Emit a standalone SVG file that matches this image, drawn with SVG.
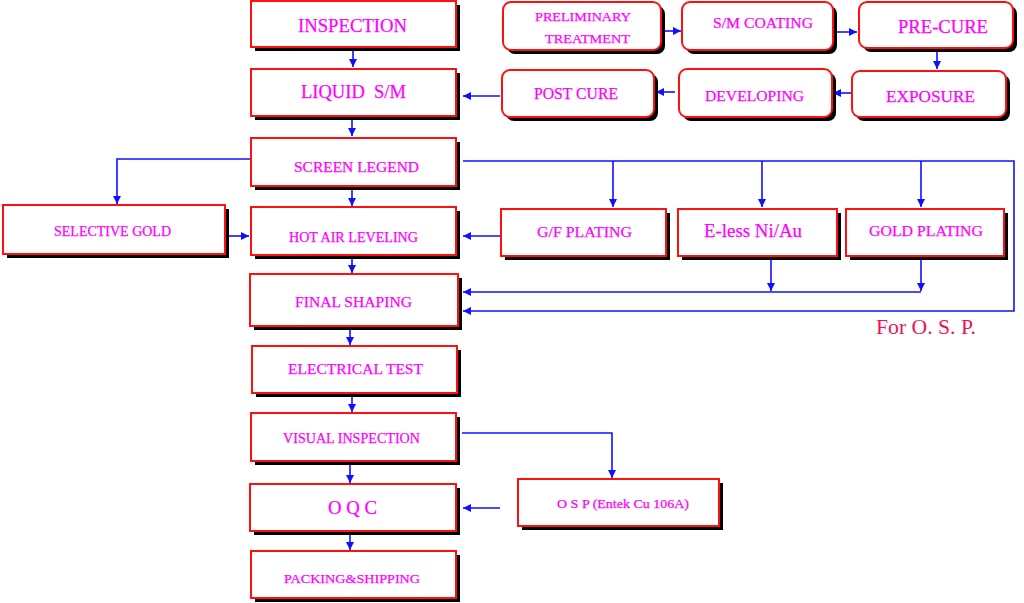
<svg xmlns="http://www.w3.org/2000/svg" width="1024" height="603" viewBox="0 0 1024 603">
<style>
.box{fill:#fff;stroke:#ff1010;stroke-width:2}
.sh{fill:#000}
.t{font-family:"Liberation Serif","Times New Roman",serif;fill:#ff00ff;stroke:#ff00ff;stroke-width:0.25;text-anchor:middle}
.c{fill:none;stroke:#1010ff;stroke-width:1.6}
.osp{font-family:"Liberation Serif","Times New Roman",serif;fill:#f0105a;font-size:20.5px}
</style>
<defs>
<marker id="ah" markerUnits="userSpaceOnUse" markerWidth="10" markerHeight="8" refX="8" refY="4" orient="auto">
<path d="M0,0 L8,4 L0,8 Z" fill="#1010ff"/>
</marker>
</defs>
<rect width="1024" height="603" fill="#fff"/>

<g id="connectors">
<path class="c" d="M353,48 V67" marker-end="url(#ah)"/>
<path class="c" d="M352,117 V136" marker-end="url(#ah)"/>
<path class="c" d="M352,187 V206" marker-end="url(#ah)"/>
<path class="c" d="M352,256 V273" marker-end="url(#ah)"/>
<path class="c" d="M350,327 V345" marker-end="url(#ah)"/>
<path class="c" d="M352,394 V412" marker-end="url(#ah)"/>
<path class="c" d="M350,462 V483" marker-end="url(#ah)"/>
<path class="c" d="M350,533 V550" marker-end="url(#ah)"/>
<path class="c" d="M462,433 H612 V478" marker-end="url(#ah)"/>
<path class="c" d="M500,508 H463" marker-end="url(#ah)"/>
<path class="c" d="M251,159 H117 V204" marker-end="url(#ah)"/>
<path class="c" d="M228,236 H249" marker-end="url(#ah)"/>
<path class="c" d="M463,161 H1014 V311 H463" marker-end="url(#ah)"/>
<path class="c" d="M613,161 V207" marker-end="url(#ah)"/>
<path class="c" d="M762,161 V207" marker-end="url(#ah)"/>
<path class="c" d="M921,161 V207" marker-end="url(#ah)"/>
<path class="c" d="M501,236 H463" marker-end="url(#ah)"/>
<path class="c" d="M921,292 H463" marker-end="url(#ah)"/>
<path class="c" d="M771,258 V291" marker-end="url(#ah)"/>
<path class="c" d="M921,258 V291" marker-end="url(#ah)"/>
<path class="c" d="M661,31 H681" marker-end="url(#ah)"/>
<path class="c" d="M835,32 H857" marker-end="url(#ah)"/>
<path class="c" d="M937,50 V69" marker-end="url(#ah)"/>
<path class="c" d="M852,93 H833" marker-end="url(#ah)"/>
<path class="c" d="M675,92 H656" marker-end="url(#ah)"/>
<path class="c" d="M500,96 H463" marker-end="url(#ah)"/>
</g>

<g id="inspection"><rect class="sh" x="255" y="5" width="205" height="46"/><rect class="box" x="251" y="1" width="205" height="46"/><text class="t" x="352.5" y="32" font-size="18.5" textLength="109" lengthAdjust="spacingAndGlyphs">INSPECTION</text></g>
<g id="liquid-sm"><rect class="sh" x="255" y="73" width="205" height="47"/><rect class="box" x="251" y="69" width="205" height="47"/><text class="t" x="353.5" y="98" font-size="18.5" textLength="105" lengthAdjust="spacingAndGlyphs" xml:space="preserve">LIQUID  S/M</text></g>
<g id="screen-legend"><rect class="sh" x="255" y="142" width="205" height="48"/><rect class="box" x="251" y="138" width="205" height="48"/><text class="t" x="356.5" y="172" font-size="15.5" textLength="125" lengthAdjust="spacingAndGlyphs">SCREEN LEGEND</text></g>
<g id="hot-air-leveling"><rect class="sh" x="255" y="211" width="205" height="48"/><rect class="box" x="251" y="207" width="205" height="48"/><text class="t" x="353.5" y="242" font-size="14.5" textLength="129" lengthAdjust="spacingAndGlyphs">HOT AIR LEVELING</text></g>
<g id="final-shaping"><rect class="sh" x="254" y="278" width="208" height="52"/><rect class="box" x="250" y="274" width="208" height="52"/><text class="t" x="353.5" y="307" font-size="15.5" textLength="117" lengthAdjust="spacingAndGlyphs">FINAL SHAPING</text></g>
<g id="selective-gold"><rect class="sh" x="7" y="209" width="222" height="49"/><rect class="box" x="3" y="205" width="222" height="49"/><text class="t" x="112.5" y="236" font-size="14.5" textLength="117" lengthAdjust="spacingAndGlyphs">SELECTIVE GOLD</text></g>
<g id="electrical-test"><rect class="sh" x="256" y="350" width="205" height="47"/><rect class="box" x="252" y="346" width="205" height="47"/><text class="t" x="355.5" y="374" font-size="15.5" textLength="135" lengthAdjust="spacingAndGlyphs">ELECTRICAL TEST</text></g>
<g id="visual-inspection"><rect class="sh" x="255" y="417" width="205" height="48"/><rect class="box" x="251" y="413" width="205" height="48"/><text class="t" x="351.5" y="443" font-size="14" textLength="137" lengthAdjust="spacingAndGlyphs">VISUAL INSPECTION</text></g>
<g id="oqc"><rect class="sh" x="254" y="488" width="206" height="47"/><rect class="box" x="250" y="484" width="206" height="47"/><text class="t" x="352.5" y="514" font-size="19" textLength="49" lengthAdjust="spacingAndGlyphs" xml:space="preserve">O Q C</text></g>
<g id="packing-shipping"><rect class="sh" x="255" y="555" width="205" height="47"/><rect class="box" x="251" y="551" width="205" height="47"/><text class="t" x="352" y="583" font-size="13.5" textLength="136" lengthAdjust="spacingAndGlyphs">PACKING&amp;SHIPPING</text></g>
<g id="osp"><rect class="sh" x="522" y="483" width="201" height="47"/><rect class="box" x="518" y="479" width="201" height="47"/><text class="t" x="623" y="508" font-size="13.5" textLength="132" lengthAdjust="spacingAndGlyphs">O S P (Entek Cu 106A)</text></g>

<g id="gf-plating"><rect class="sh" x="505" y="213" width="165" height="47"/><rect class="box" x="501" y="209" width="165" height="47"/><text class="t" x="584.5" y="237" font-size="15.6" textLength="95" lengthAdjust="spacingAndGlyphs">G/F PLATING</text></g>
<g id="eless-niau"><rect class="sh" x="682" y="213" width="159" height="47"/><rect class="box" x="678" y="209" width="159" height="47"/><text class="t" x="753" y="237" font-size="18.9" textLength="98" lengthAdjust="spacingAndGlyphs">E-less Ni/Au</text></g>
<g id="gold-plating"><rect class="sh" x="850" y="213" width="158" height="47"/><rect class="box" x="846" y="209" width="158" height="47"/><text class="t" x="926" y="236" font-size="15.6" textLength="114" lengthAdjust="spacingAndGlyphs">GOLD PLATING</text></g>

<g id="preliminary-treatment"><rect class="sh" x="507" y="6" width="158" height="48" rx="8"/><rect class="box" x="503" y="2" width="158" height="48" rx="8"/><text class="t" x="583" y="21" font-size="13.5" textLength="96" lengthAdjust="spacingAndGlyphs">PRELIMINARY</text><text class="t" x="587.5" y="43" font-size="13.5" textLength="85" lengthAdjust="spacingAndGlyphs">TREATMENT</text></g>
<g id="sm-coating"><rect class="sh" x="686" y="6" width="151" height="48" rx="8"/><rect class="box" x="682" y="2" width="151" height="48" rx="8"/><text class="t" x="763" y="28" font-size="15.5" textLength="100" lengthAdjust="spacingAndGlyphs">S/M COATING</text></g>
<g id="pre-cure"><rect class="sh" x="863" y="6" width="154" height="46" rx="8"/><rect class="box" x="859" y="2" width="154" height="46" rx="8"/><text class="t" x="943" y="33" font-size="18.6" textLength="90" lengthAdjust="spacingAndGlyphs">PRE-CURE</text></g>
<g id="post-cure"><rect class="sh" x="506" y="74" width="152" height="47" rx="8"/><rect class="box" x="502" y="70" width="152" height="47" rx="8"/><text class="t" x="576" y="99" font-size="15.7" textLength="84" lengthAdjust="spacingAndGlyphs">POST CURE</text></g>
<g id="developing"><rect class="sh" x="683" y="73" width="153" height="48" rx="8"/><rect class="box" x="679" y="69" width="153" height="48" rx="8"/><text class="t" x="754.5" y="101" font-size="15.6" textLength="99" lengthAdjust="spacingAndGlyphs">DEVELOPING</text></g>
<g id="exposure"><rect class="sh" x="856" y="75" width="154" height="46" rx="8"/><rect class="box" x="852" y="71" width="154" height="46" rx="8"/><text class="t" x="930.5" y="102" font-size="17.2" textLength="89" lengthAdjust="spacingAndGlyphs">EXPOSURE</text></g>

<text class="osp" x="876" y="334" textLength="100" lengthAdjust="spacingAndGlyphs">For O. S. P.</text>
</svg>
